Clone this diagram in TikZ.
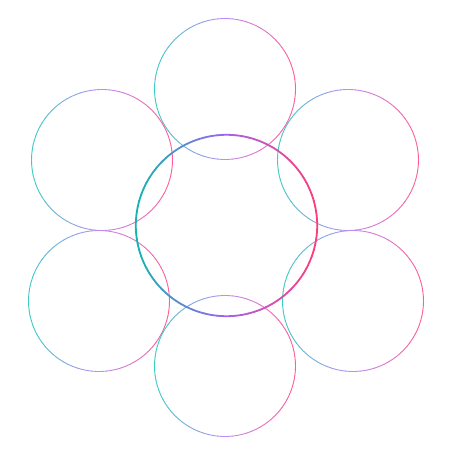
\documentclass[tikz,border=0pt]{standalone}
\usepackage{tikz}
\definecolor{oL}{RGB}{60,205,195}
\definecolor{oM}{RGB}{190,140,245}
\definecolor{oR}{RGB}{255,95,150}
\definecolor{cL}{RGB}{20,180,175}
\definecolor{cM}{RGB}{160,100,235}
\definecolor{cR}{RGB}{255,60,120}
\newcommand\gradcirc[7]{% cx cy r width L M R
  \foreach \a in {0,4,...,356}{%
    \pgfmathsetmacro\xx{cos(\a+2)}%
    \pgfmathsetmacro\pL{max(0,-\xx)*100}%
    \pgfmathsetmacro\pR{max(0,\xx)*100}%
    \colorlet{tmpc}{#7!\pR!#6}%
    \colorlet{tmpc}{#5!\pL!tmpc}%
    \draw[line width=#4, tmpc, line cap=round] ([shift={(\a:#3)}]#1,#2) arc[start angle=\a, end angle=\a+4, radius=#3];
  }%
}
\begin{document}
\begin{tikzpicture}[x=1pt,y=1pt]
\useasboundingbox (0,0) rectangle (450,450);
\gradcirc{225}{361}{70.5}{0.9pt}{oL}{oM}{oR}
\gradcirc{102}{290}{70.5}{0.9pt}{oL}{oM}{oR}
\gradcirc{348}{290}{70.5}{0.9pt}{oL}{oM}{oR}
\gradcirc{99}{149}{70.5}{0.9pt}{oL}{oM}{oR}
\gradcirc{353}{149}{70.5}{0.9pt}{oL}{oM}{oR}
\gradcirc{225}{84}{70.5}{0.9pt}{oL}{oM}{oR}
\gradcirc{226.5}{224.5}{90.7}{1.8pt}{cL}{cM}{cR}
\end{tikzpicture}
\end{document}
